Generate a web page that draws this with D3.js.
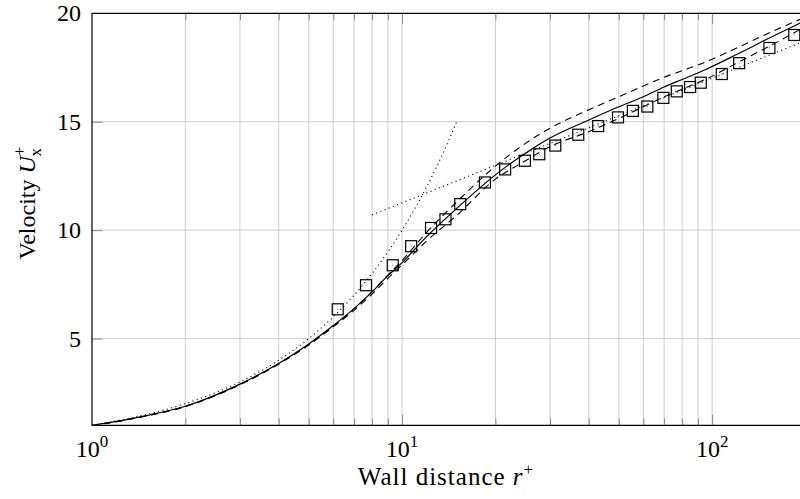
<!DOCTYPE html>
<html>
<head>
<meta charset="utf-8">
<script src="https://cdn.jsdelivr.net/npm/d3@7"></script>
<style>
  body { margin: 0; background: #fff; }
  text { font-family: "Liberation Serif", "DejaVu Serif", serif; fill: #000; }
</style>
</head>
<body>
<script>
var width = 800, height = 499;
var plotL = 92, plotR = 800, plotT = 13.3, plotB = 425.3;

// wall distance r+ sample points for the profiles
var rPlus = [1, 1.5, 2, 3, 4, 5, 6, 7, 8, 9, 10, 12, 15, 20, 25, 30, 40, 50, 60, 70, 80, 95, 120, 150, 192];
var uSolid = [1.0, 1.45, 1.88, 2.9, 3.85, 4.75, 5.6, 6.38, 7.15, 7.9, 8.5, 9.7, 11.0, 12.55, 13.55, 14.25, 15.08, 15.69, 16.15, 16.6, 16.95, 17.4, 18.1, 18.8, 19.55];
var uDashHigh = [0.99, 1.44, 1.87, 2.89, 3.84, 4.73, 5.58, 6.37, 7.16, 7.93, 8.6, 9.9, 11.3, 12.95, 14.0, 14.7, 15.55, 16.15, 16.65, 17.05, 17.35, 17.75, 18.4, 19.05, 19.72];
var uDashLow = [0.98, 1.43, 1.86, 2.87, 3.82, 4.7, 5.54, 6.3, 7.05, 7.78, 8.4, 9.5, 10.68, 12.35, 13.2, 13.85, 14.54, 15.15, 15.69, 16.15, 16.5, 16.95, 17.7, 18.42, 19.25];

// viscous sublayer U+ = r+
var rVisc = [1, 1.5, 2, 2.5, 3, 4, 5, 6, 7, 8, 9, 10, 11, 12, 13, 14, 15];
var uVisc = [1, 1.5, 2, 2.5, 3, 4, 5, 6, 7, 8, 9, 10, 11, 12, 13, 14, 15];
// log law (straight on a log axis)
var rLog = [8, 192];
var uLog = [10.7, 18.64];

// reference data (squares)
var rRef = [6.2, 7.65, 9.33, 10.7, 12.4, 13.8, 15.4, 18.5, 21.5, 24.9, 27.7, 31.2, 37.0, 42.9, 49.7, 55.5, 61.8, 69.6, 76.9, 84.9, 91.9, 107.4, 122.2, 153, 184];
var uRef = [6.35, 7.46, 8.38, 9.26, 10.1, 10.5, 11.2, 12.2, 12.8, 13.2, 13.5, 13.9, 14.4, 14.8, 15.2, 15.5, 15.7, 16.1, 16.4, 16.6, 16.8, 17.2, 17.7, 18.4, 19.0];

var xMajor = [1, 10, 100];
var xMinor = [2, 3, 4, 5, 6, 7, 8, 9, 20, 30, 40, 50, 60, 70, 80, 90];
var yTicks = [5, 10, 15, 20];

var x = d3.scaleLog().domain([1, 192]).range([plotL, plotR]);
var y = d3.scaleLinear().domain([1, 20]).range([plotB, plotT]);

var svg = d3.select("body").append("svg")
  .attr("width", width)
  .attr("height", height);

svg.append("clipPath").attr("id", "plot")
  .append("rect")
  .attr("x", plotL).attr("y", plotT)
  .attr("width", plotR - plotL).attr("height", plotB - plotT);

// grid
var grid = svg.append("g").attr("stroke", "#cdcdcd").attr("stroke-width", 1);
grid.selectAll(".gx").data(xMajor.concat(xMinor).filter(function(d){ return d > 1; }))
  .enter().append("line")
  .attr("x1", function(d){ return x(d); }).attr("x2", function(d){ return x(d); })
  .attr("y1", plotT).attr("y2", plotB);
grid.selectAll(".gy").data(yTicks.filter(function(d){ return d < 20; }))
  .enter().append("line")
  .attr("x1", plotL).attr("x2", plotR)
  .attr("y1", function(d){ return y(d); }).attr("y2", function(d){ return y(d); });

// tick marks inside the box, bottom and top
function ticks(sel, axis) {
  sel.call(axis);
  sel.select(".domain").remove();
  sel.selectAll(".tick line").attr("stroke", "#8a8a8a");
  sel.selectAll(".tick text").remove();
}
svg.append("g").attr("transform", "translate(0," + plotB + ")")
  .call(ticks, d3.axisBottom(x).tickValues(xMinor).tickSize(-7));
svg.append("g").attr("transform", "translate(0," + plotB + ")")
  .call(ticks, d3.axisBottom(x).tickValues(xMajor.slice(1)).tickSize(-10.5));
svg.append("g").attr("transform", "translate(0," + plotT + ")")
  .call(ticks, d3.axisTop(x).tickValues(xMinor).tickSize(-7));
svg.append("g").attr("transform", "translate(0," + plotT + ")")
  .call(ticks, d3.axisTop(x).tickValues(xMajor.slice(1)).tickSize(-10.5));
svg.append("g").attr("transform", "translate(" + plotL + ",0)")
  .call(ticks, d3.axisLeft(y).tickValues(yTicks.filter(function(d){ return d < 20; })).tickSize(-10.5));

// curves
var plot = svg.append("g").attr("clip-path", "url(#plot)");
function line(rs, us, smooth) {
  return d3.line()
    .curve(smooth ? d3.curveMonotoneX : d3.curveLinear)
    .x(function(d){ return x(d); })
    .y(function(d, i){ return y(us[i]); })(rs);
}
plot.append("path").attr("d", line(rVisc, uVisc, true))
  .attr("fill", "none").attr("stroke", "#000").attr("stroke-width", 1.1).attr("stroke-dasharray", "1.1,3.4");
plot.append("path").attr("d", line(rLog, uLog, false))
  .attr("fill", "none").attr("stroke", "#000").attr("stroke-width", 1.1).attr("stroke-dasharray", "1.1,3.4");
plot.append("path").attr("d", line(rPlus, uDashHigh, true))
  .attr("fill", "none").attr("stroke", "#000").attr("stroke-width", 1.1).attr("stroke-dasharray", "7,5");
plot.append("path").attr("d", line(rPlus, uDashLow, true))
  .attr("fill", "none").attr("stroke", "#000").attr("stroke-width", 1.1).attr("stroke-dasharray", "7,5");
plot.append("path").attr("d", line(rPlus, uSolid, true))
  .attr("fill", "none").attr("stroke", "#000").attr("stroke-width", 1.2);

// squares
var sq = 11;
plot.selectAll(".sq").data(rRef).enter().append("rect")
  .attr("x", function(d){ return x(d) - sq / 2; })
  .attr("y", function(d, i){ return y(uRef[i]) - sq / 2; })
  .attr("width", sq).attr("height", sq)
  .attr("fill", "none").attr("stroke", "#000").attr("stroke-width", 1.2);
plot.selectAll(".dot").data(rRef).enter().append("rect")
  .attr("x", function(d){ return x(d) - 0.5; })
  .attr("y", function(d, i){ return y(uRef[i]) - 0.5; })
  .attr("width", 1).attr("height", 1)
  .attr("fill", "#555");

// axis box
svg.append("path")
  .attr("d", "M" + plotR + "," + plotT + "H" + plotL + "V" + plotB + "H" + plotR)
  .attr("fill", "none").attr("stroke", "#000").attr("stroke-width", 1.2);

// tick labels
var xl = svg.append("g").attr("font-size", 24);
xMajor.forEach(function(v) {
  var t = xl.append("text").attr("x", x(v)).attr("y", 457).attr("text-anchor", "middle");
  t.append("tspan").text("10");
  t.append("tspan").attr("dy", -10).attr("font-size", 17).text(String(Math.round(Math.log10(v))));
});
svg.append("g").attr("font-size", 24).selectAll("text").data(yTicks).enter().append("text")
  .attr("x", 81).attr("y", function(d){ return y(d); })
  .attr("dy", "0.34em").attr("text-anchor", "end")
  .text(function(d){ return d; });

// axis titles
var xt = svg.append("text").attr("x", 446).attr("y", 485).attr("font-size", 25)
  .attr("letter-spacing", 1).attr("text-anchor", "middle");
xt.append("tspan").text("Wall distance ");
xt.append("tspan").attr("font-style", "italic").text("r");
xt.append("tspan").attr("dy", -10).attr("font-size", 17).text("+");

var yt = svg.append("text").attr("transform", "translate(35,203) rotate(-90)")
  .attr("font-size", 24).attr("text-anchor", "middle");
yt.append("tspan").text("Velocity ");
yt.append("tspan").attr("font-style", "italic").text("U");
yt.append("tspan").attr("dy", -10).attr("font-size", 17).text("+");
yt.append("tspan").attr("dx", -10).attr("dy", 16).attr("font-size", 17).text("x");
</script>
</body>
</html>
